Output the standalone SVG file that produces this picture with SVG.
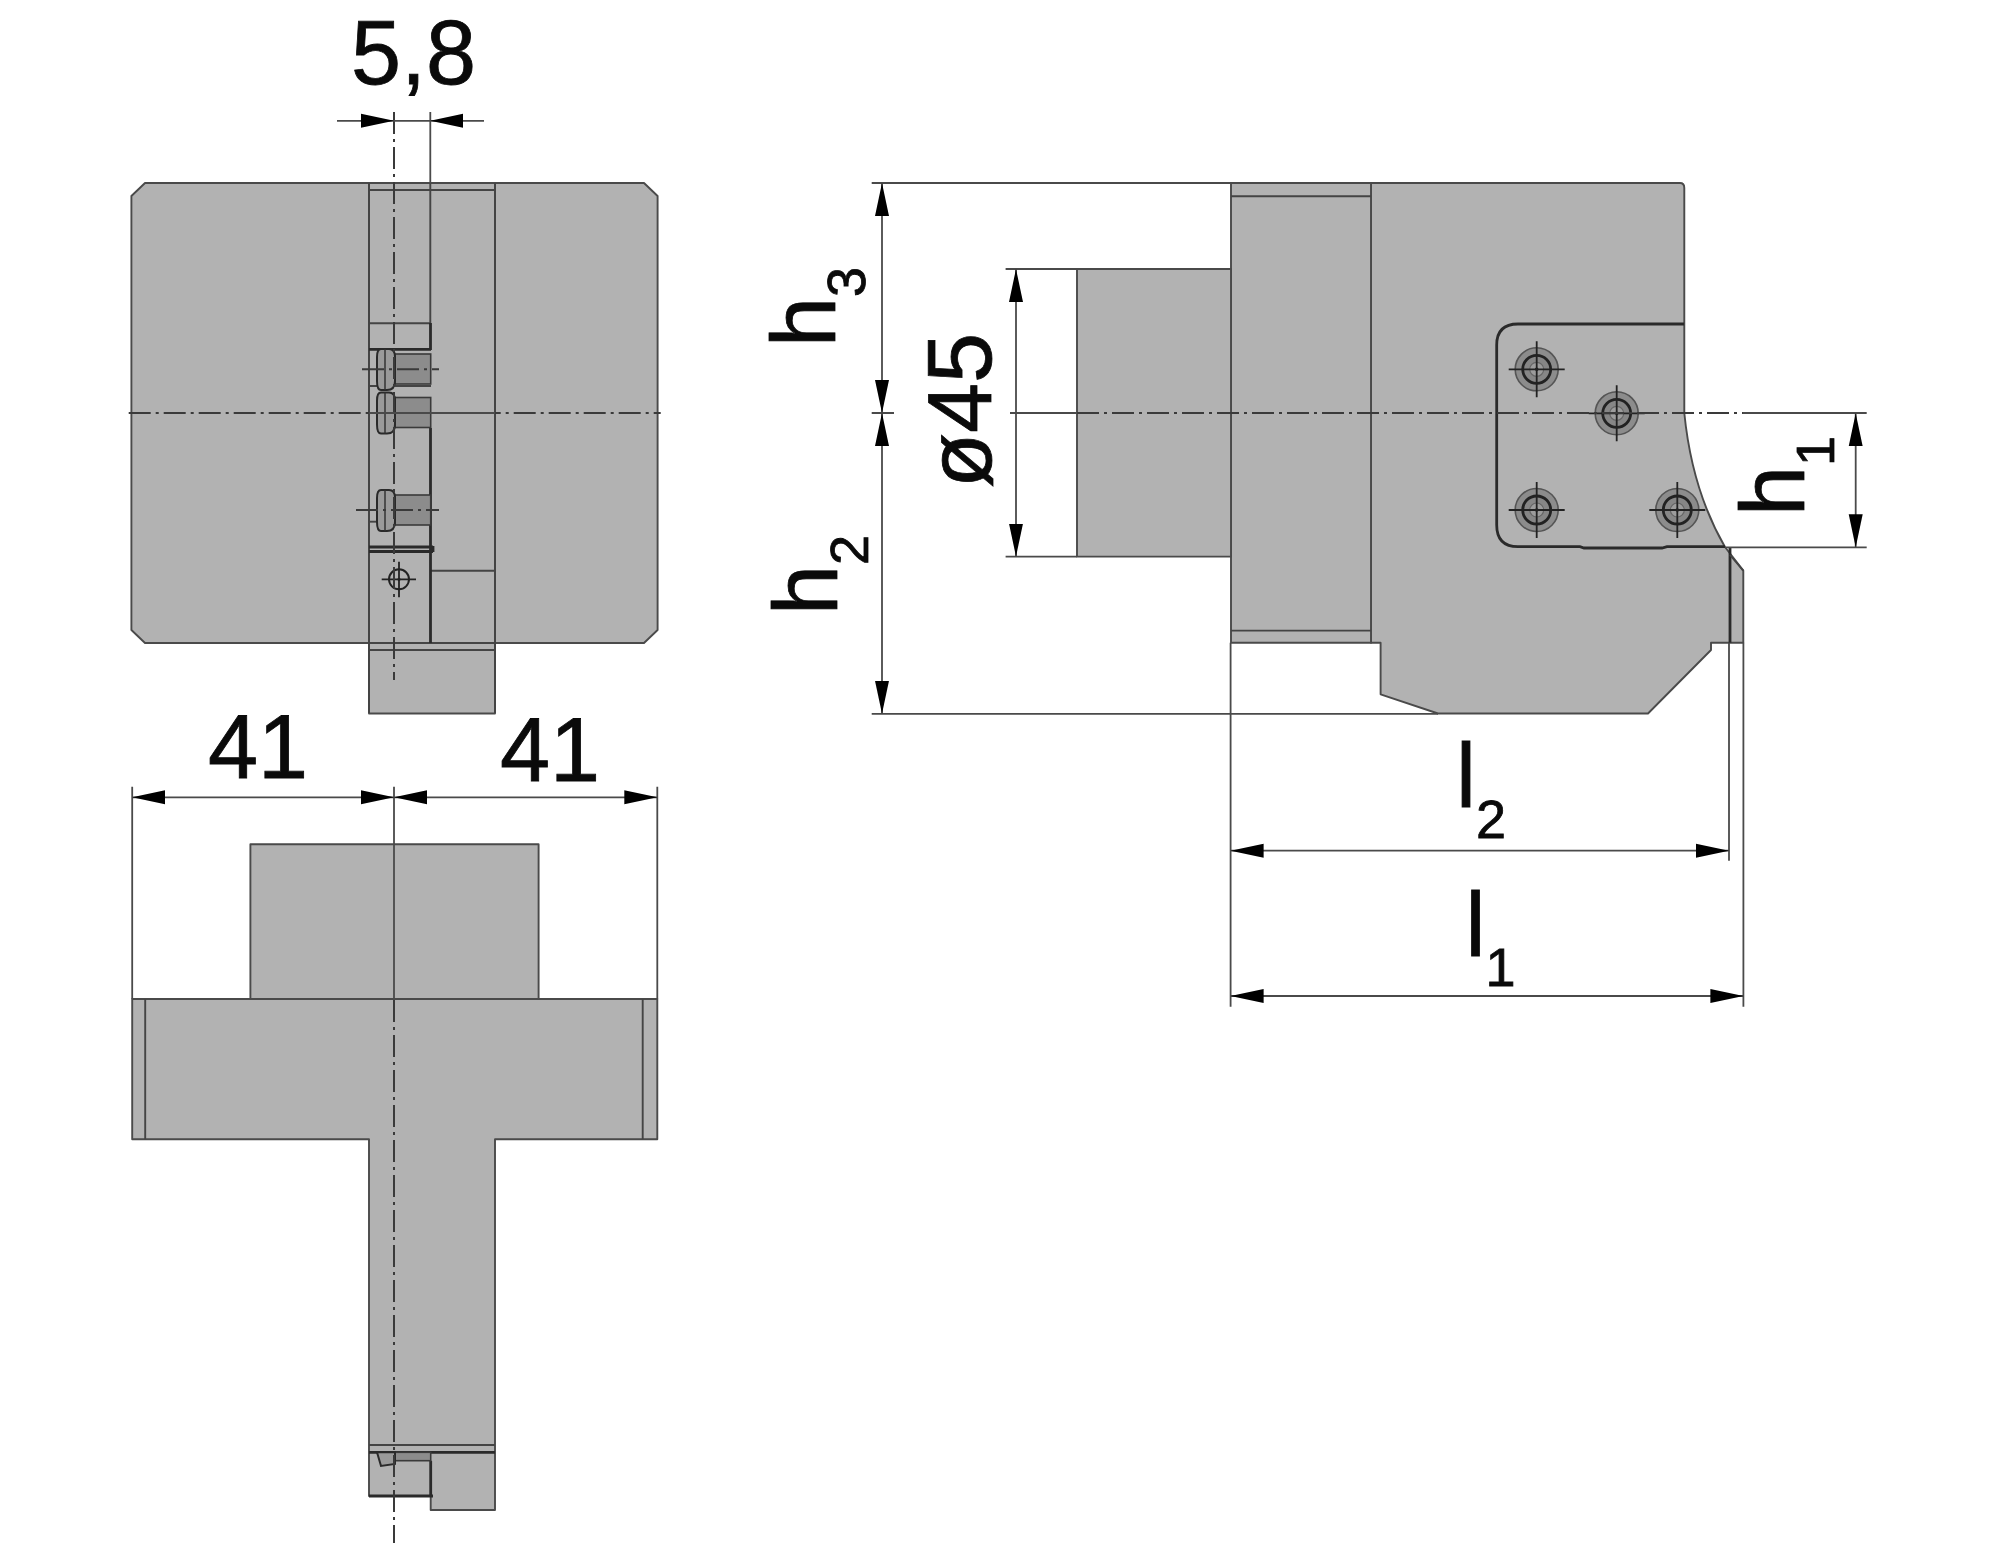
<svg xmlns="http://www.w3.org/2000/svg" width="2008" height="1559" viewBox="0 0 2008 1559">
<style>
.part{fill:#b2b2b2;stroke:#4a4a4a;stroke-width:1.9;stroke-linejoin:round}
.edge{fill:none;stroke:#444;stroke-width:1.9}
.thick{fill:none;stroke:#2a2a2a;stroke-width:2.8}
.dark{fill:#8c8c8c;stroke:#3a3a3a;stroke-width:1.6}
.head{fill:#9a9a9a;stroke:#2a2a2a;stroke-width:2}
.center{fill:none;stroke:#3a3a3a;stroke-width:2;stroke-dasharray:22 5 3 5}
.dim{fill:none;stroke:#4a4a4a;stroke-width:1.8}
.arrow{stroke:#4a4a4a;stroke-width:1.8;fill:none}
.t{font-family:"Liberation Sans",Arial,sans-serif;font-size:90px;fill:#0a0a0a;stroke:#0a0a0a;stroke-width:.8}
.s{font-size:54px}
</style>
<defs>
<marker id="tip" markerUnits="userSpaceOnUse" markerWidth="36" markerHeight="18" refX="33" refY="9" orient="auto-start-reverse">
<path d="M33,9 L0,2 L0,16 Z" fill="#000"/>
</marker>
<g id="bolt">
<circle r="21.5" fill="#8c8c8c" stroke="#555" stroke-width="1.6"/>
<circle r="14" fill="#868686" stroke="#222" stroke-width="2.8"/>
<circle r="7" fill="#9c9c9c" stroke="#666" stroke-width="1.2"/>
<circle r="1.8" fill="#111"/>
<path d="M-28,0H28M0,-28V28" fill="none" stroke="#222" stroke-width="1.8"/>
</g>
<g id="screw">
<rect x="395" y="-15" width="35.7" height="30" class="dark"/>
<path d="M381,-20 H389 Q395,-20 395,-12 V12 Q395,21 387,21 H381 Q377,21 377,12 V-12 Q377,-20 381,-20 Z" class="head"/>
<path d="M385,-20V21" fill="none" stroke="#333" stroke-width="1.5"/>
</g>
</defs>

<g id="front-view">
<path class="part" d="M145,183H644L657.6,196V630L644,643H145L131.4,630V196Z"/>
<rect class="part" x="369" y="183" width="126" height="530.5"/>
<path class="edge" d="M369,190H495M369,643H495M369,650H495M431,570.7H495M430.3,183V323"/>
<path class="edge" d="M369,323.3H431M369,386H431"/>
<path class="edge" d="M369,183V713M495,183V713"/>
<path class="thick" d="M430.5,323V350M430.5,428V643M369,349.3H431M369,547H433M369,551.5H433M433,546V552"/>
<path class="edge" d="M369,521.7H377"/>
<use href="#screw" y="369"/>
<use href="#screw" y="412.5"/>
<use href="#screw" y="510"/>
<circle cx="399" cy="579.3" r="10" fill="none" stroke="#222" stroke-width="2"/>
<circle cx="399" cy="579.3" r="1.6" fill="#111"/>
<path d="M381.7,579.3H416M399,561.7V597.3" fill="none" stroke="#222" stroke-width="1.8"/>
<path class="center" d="M356,510H439M362,369.3H439"/>
</g>

<g id="top-view">
<rect class="part" x="250.4" y="844.3" width="288.2" height="154.7"/>
<path class="part" d="M132.2,999H657.3V1139.3H495V1452V1510H430.7V1496H369V1139.3H132.2Z"/>
<path class="edge" d="M145.2,999V1139.3M642.7,999V1139.3M369,1445H495"/>
<path class="thick" d="M369,1452.3H495M430.7,1460.7V1496M369,1496H433"/>
<rect class="dark" x="395" y="1452.3" width="35.7" height="8.4"/>
<path class="head" d="M377,1452.3H395V1464L381,1466Z"/>
</g>

<g id="side-view">
<path class="part" d="M1371,183H1680Q1684.3,183 1684.3,188V413Q1692,490 1725,547L1743.3,570.7V642.7H1711V650L1648,713.5H1438L1380.6,694.3V642.7H1371Z"/>
<rect class="part" x="1231" y="183" width="140" height="459.7"/>
<rect class="part" x="1077" y="269" width="154" height="287.6"/>
<path class="edge" d="M1231,196.3H1371M1231,630.6H1371"/>
<path class="thick" d="M1684,324H1518Q1496.7,324 1496.7,345V525Q1496.7,546.7 1518,546.7H1580L1584,548H1662L1667,546.7H1725"/>
<path class="thick" d="M1730,548V642.7"/>
<path class="edge" d="M1730,555L1743.3,570.7"/>
<use href="#bolt" x="1536.7" y="369.3"/>
<use href="#bolt" x="1616.7" y="413.3"/>
<use href="#bolt" x="1536.7" y="510"/>
<use href="#bolt" x="1677.3" y="510"/>
</g>

<g id="connectors">
<path class="center" d="M128.7,413H660.7"/>
<path class="center" d="M394,112V680"/>
<path class="center" d="M394,1000V1543"/>
<path class="center" d="M1077,413H1743"/>
<path class="dim" d="M1010,413H1077M1743,413H1866.7M871.7,413H894M369,413H495"/>
<path class="dim" d="M430.3,112V183M394,786.7V999"/>
<path class="dim" d="M871.7,183H1231M871.7,713.8H1438M1005.6,269H1077M1005.6,556.6H1077M1725,547.3H1866.7"/>
<path class="dim" d="M132.2,786.7V999M657.3,786.7V999M1230.6,642.7V1006.7M1729,642.7V860.7M1743.4,642.7V1006.7"/>
<path class="dim" d="M394,120.8H430.3"/>
<line class="arrow" x1="337" y1="120.8" x2="394" y2="120.8" marker-end="url(#tip)"/>
<line class="arrow" x1="484" y1="120.8" x2="430.3" y2="120.8" marker-end="url(#tip)"/>
<line class="arrow" x1="132.2" y1="797.3" x2="394" y2="797.3" marker-start="url(#tip)" marker-end="url(#tip)"/>
<line class="arrow" x1="394" y1="797.3" x2="657.3" y2="797.3" marker-start="url(#tip)" marker-end="url(#tip)"/>
<line class="arrow" x1="882" y1="183" x2="882" y2="413" marker-start="url(#tip)" marker-end="url(#tip)"/>
<line class="arrow" x1="882" y1="413" x2="882" y2="713.8" marker-start="url(#tip)" marker-end="url(#tip)"/>
<line class="arrow" x1="1016" y1="269" x2="1016" y2="556.6" marker-start="url(#tip)" marker-end="url(#tip)"/>
<line class="arrow" x1="1855.7" y1="413.3" x2="1855.7" y2="547.3" marker-start="url(#tip)" marker-end="url(#tip)"/>
<line class="arrow" x1="1230.6" y1="850.7" x2="1729" y2="850.7" marker-start="url(#tip)" marker-end="url(#tip)"/>
<line class="arrow" x1="1230.6" y1="996" x2="1743.4" y2="996" marker-start="url(#tip)" marker-end="url(#tip)"/>
</g>

<g id="labels">
<text class="t" x="351" y="84">5,8</text>
<text class="t" x="208" y="777.7">41</text>
<text class="t" x="500" y="780.7">41</text>
<text class="t" transform="translate(834.6,347) rotate(-90)">h<tspan class="s" dy="30">3</tspan></text>
<text class="t" transform="translate(837,615) rotate(-90)">h<tspan class="s" dy="31">2</tspan></text>
<text class="t" transform="translate(991,488) rotate(-90)">ø45</text>
<text class="t" transform="translate(1804,516) rotate(-90)">h<tspan class="s" dy="30">1</tspan></text>
<text class="t" x="1456" y="807">l<tspan class="s" dy="31">2</tspan></text>
<text class="t" x="1465.5" y="955.7">l<tspan class="s" dy="30.5">1</tspan></text>
</g>
</svg>
